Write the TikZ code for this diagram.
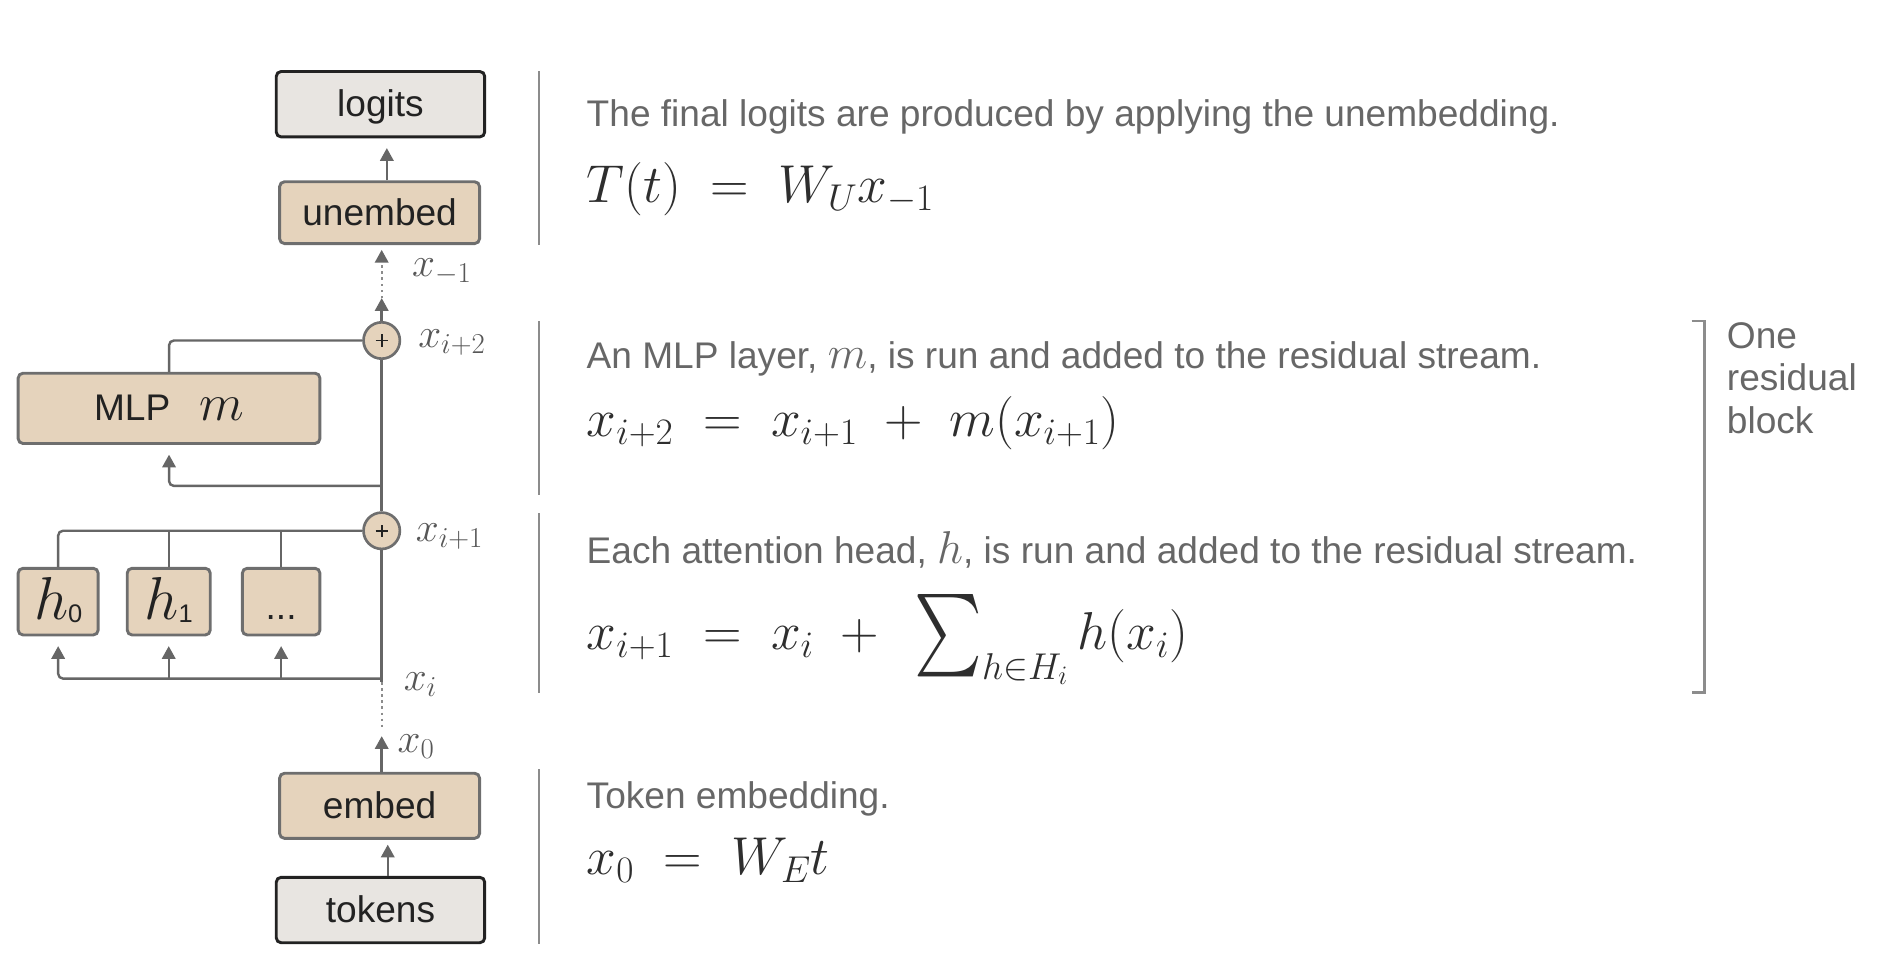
\RequirePackage{fix-cm}
\documentclass[tikz,border=0pt]{standalone}
\usepackage{amsmath}
\usepackage{graphicx}
\usepackage[no-math]{fontspec}
\setmainfont{Liberation Sans}
\usetikzlibrary{arrows.meta}
\definecolor{beige}{HTML}{E5D3BC}
\definecolor{lgray}{HTML}{E8E5E1}
\definecolor{bordg}{HTML}{6E6E6E}
\definecolor{linec}{HTML}{666666}
\definecolor{sepc}{HTML}{8C8C8C}
\definecolor{txtg}{HTML}{676767}
\definecolor{eqc}{HTML}{2E2E2E}
\definecolor{boxtxt}{HTML}{222222}
\newcommand\myfs[1]{\fontsize{#1}{#1}\selectfont}
\newcommand\bigsumop{\mathop{\vcenter{\hbox{\resizebox*{56pt}{68pt}{$\textstyle\sum$}}}}\nolimits}
\begin{document}
\begin{tikzpicture}[x=1pt,y=-1pt,
  box/.style={draw=bordg, line width=2.4pt, rounded corners=4pt, fill=beige,
    inner sep=0pt, text=boxtxt, font=\myfs{30.6}, text height=22pt, text depth=1.5pt},
  iobox/.style={box, fill=lgray, draw=boxtxt},
  headbox/.style={box, text height=33pt, text depth=3pt},
  plus/.style={circle, draw=bordg, fill=beige, line width=2.2pt, minimum size=30pt, inner sep=0pt,
    path picture={\draw[line width=1.6pt, boxtxt] ([xshift=-5pt]path picture bounding box.center) -- ([xshift=5pt]path picture bounding box.center);
      \draw[line width=1.6pt, boxtxt] ([yshift=-5pt]path picture bounding box.center) -- ([yshift=5pt]path picture bounding box.center);}},
  wire/.style={draw=linec, line width=2pt, rounded corners=4pt},
  arr/.style={wire, -{Triangle[length=10.5pt,width=11pt]}},
  dotw/.style={draw=linec!75, line width=1.6pt, dash pattern=on 2pt off 3pt},
  desc/.style={anchor=base west, inner sep=0pt, text=txtg, font=\myfs{30.6}},
  eq/.style={anchor=base west, inner sep=0pt, text=eqc, font=\myfs{44}},
  lab/.style={anchor=base west, inner sep=0pt, text=linec!85!black, font=\myfs{34}},
  sep/.style={draw=sepc, line width=2pt}]
\useasboundingbox (0,0) rectangle (1568,803.8);

% ---- left column nodes
\node[iobox, minimum width=172pt, minimum height=54pt] (logits) at (314,86) {logits};
\node[box, minimum width=165pt, minimum height=51pt] (unembed) at (313.25,175.5) {unembed};
\node[plus] (p2) at (315,281) {};
\node[box, minimum width=249pt, minimum height=58pt] (mlp) at (139.5,337) {MLP\hspace{24pt}{\myfs{43}$m$}};
\node[plus] (p1) at (315,438) {};
\node[headbox, minimum width=66pt, minimum height=55pt] (h0) at (48,496.5) {{\myfs{50}$h$}\raisebox{-2pt}{\myfs{21}0}};
\node[headbox, minimum width=68.5pt, minimum height=55pt] (h1) at (139.25,496.5) {{\myfs{50}$h$}\raisebox{-2pt}{\myfs{21}1}};
\node[headbox, minimum width=64pt, minimum height=55pt] (hd) at (232,496.5) {...};
\node[box, minimum width=165pt, minimum height=53.7pt] (embed) at (313.25,665) {embed};
\node[iobox, minimum width=172pt, minimum height=54pt] (tokens) at (314,751) {tokens};

\coordinate (a1) at (315,246);
\coordinate (a2) at (315,215.5);
\coordinate (m0) at (315,401);
\coordinate (xi) at (315,560);
\coordinate (b0) at (315,607.5);
\coordinate (b1) at (315,600);
\coordinate (b2) at (315,563);

% ---- connectors
\draw[arr, shorten >=8pt] ([xshift=6pt]unembed.north) -- ([xshift=6pt]unembed.north |- logits.south);
\draw[arr] (p2.north) -- (a1);
\draw[dotw] (a1) -- (a2);
\draw[arr, shorten >=4pt] (a2) -- (a2 |- unembed.south);
\draw[wire] (p1.north) -- (p2.south);
\draw[wire] (mlp.north) |- (p2.west);
\draw[arr, shorten >=8pt] (m0) -| (mlp.south);
\draw[wire] (xi) -- (p1.south);
\draw[wire] (h0.north) |- (p1.west);
\draw[wire] (h1.north) -- (h1.north |- p1.west);
\draw[wire] (hd.north) -- (hd.north |- p1.west);
\draw[arr, shorten >=8pt] (xi) -| (h0.south);
\draw[arr, shorten >=8pt] (xi -| h1.south) -- (h1.south);
\draw[arr, shorten >=8pt] (xi -| hd.south) -- (hd.south);
\draw[wire] (xi) -- (b2);
\draw[dotw] (b2) -- (b1);
\draw[arr] (embed.north -| b0) -- (b0);
\draw[arr, shorten >=4pt] ([xshift=6pt]tokens.north) -- ([xshift=6pt]tokens.north |- embed.south);

% ---- stream labels
\node[lab] (lm1) at (340,228) {$x_{-1}$};
\node[lab] (li2) at (345,287) {$x_{i+2}$};
\node[lab] (li1) at (343,447) {$x_{i+1}$};
\node[lab] (li0) at (333,570) {$x_{i}$};
\node[lab] (lx0) at (328,621) {$x_{0}$};

% ---- separators
\draw[sep] (445,59) -- (445,202);
\draw[sep] (445,265) -- (445,408.5);
\draw[sep] (445,423.6) -- (445,571.6);
\draw[sep] (445,635) -- (445,779);

% ---- descriptions
\node[desc] (d1) at (484,104.5) {The final logits are produced by applying the unembedding.};
\node[eq] (e1) at (484,167) {$T(t) \;=\; W_U x_{-1}$};
\node[desc] (d2) at (484,304) {An MLP layer, {\myfs{38}$m$}, is run and added to the residual stream.};
\node[eq] (e2) at (484,360) {$x_{i+2} \;=\; x_{i+1} \;+\; m(x_{i+1})$};
\node[desc] (d3) at (484,465) {Each attention head, {\myfs{38}$h$}, is run and added to the residual stream.};
\node[eq] (e3) at (484,536) {$x_{i+1} \;=\; x_i \;+\;\, \bigsumop_{h\in H_i} h(x_i)$};
\node[desc] (d4) at (484,667) {Token embedding.};
\node[eq] (e4) at (484,722) {$x_0 \;=\; W_E t$};

% ---- bracket
\draw[sep] (1396,265) -- (1406.5,265) -- (1406.5,571.6) -- (1396,571.6);
\node[desc] (r1) at (1425,287.5) {One};
\node[desc] (r2) at (1425,322) {residual};
\node[desc] (r3) at (1425,357.5) {block};
\end{tikzpicture}
\end{document}
